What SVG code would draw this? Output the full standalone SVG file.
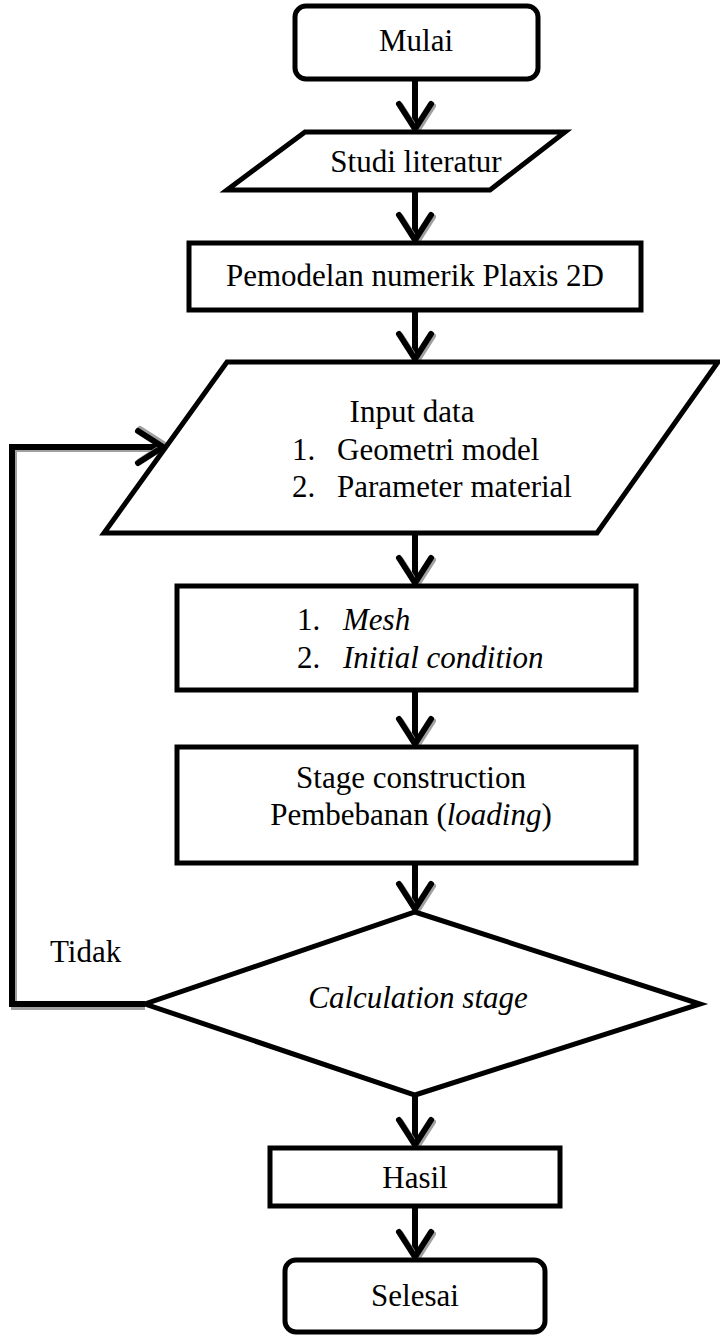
<svg xmlns="http://www.w3.org/2000/svg" xmlns:xlink="http://www.w3.org/1999/xlink" width="720" height="1335" viewBox="0 0 720 1335">
<style>
.box{fill:#fff;stroke:#000;stroke-width:5;stroke-linejoin:miter}
.t{font-family:"Liberation Serif","Times New Roman",serif;font-size:31px;fill:#000}
.c{text-anchor:middle}
.i{font-style:italic}
.sh{fill:none;stroke:#a0a0a0;stroke-width:6;stroke-linecap:round;stroke-linejoin:round}
.ln{fill:none;stroke:#000;stroke-width:6;stroke-linecap:round;stroke-linejoin:round}
.shaft{fill:none;stroke:#000;stroke-width:6}
</style>
<defs>
<g id="head">
<path d="M-16,-26 L0,-1 L16,-26" transform="translate(2,2)" class="sh"/>
<path d="M-16,-26 L0,-1 L16,-26" class="ln"/>
</g>
</defs>
<g id="connectors">
<line x1="415" y1="79" x2="415" y2="128" class="shaft"/>
<use xlink:href="#head" x="415" y="130"/>
<line x1="415" y1="190" x2="415" y2="239" class="shaft"/>
<use xlink:href="#head" x="415" y="241"/>
<line x1="415" y1="310" x2="415" y2="358" class="shaft"/>
<use xlink:href="#head" x="415" y="360"/>
<line x1="415" y1="533" x2="415" y2="582" class="shaft"/>
<use xlink:href="#head" x="415" y="584"/>
<line x1="415" y1="690" x2="415" y2="743" class="shaft"/>
<use xlink:href="#head" x="415" y="745"/>
<line x1="415" y1="863" x2="415" y2="908" class="shaft"/>
<use xlink:href="#head" x="415" y="910"/>
<line x1="415" y1="1095" x2="415" y2="1144" class="shaft"/>
<use xlink:href="#head" x="415" y="1146"/>
<line x1="415" y1="1206" x2="415" y2="1256" class="shaft"/>
<use xlink:href="#head" x="415" y="1258"/>
<path d="M145,1007 L14,1007 L14,449 L162,449" fill="none" stroke="#a0a0a0" stroke-width="6"/>
<path d="M145,1004 L12,1004 L12,447 L160,447" fill="none" stroke="#000" stroke-width="6"/>
<g transform="translate(164,447) rotate(-90)">
<use xlink:href="#head"/>
</g>
</g>
<g id="mulai">
<rect x="295" y="6" width="243" height="73" rx="11" class="box"/>
<text x="416" y="51" class="t c">Mulai</text>
</g>
<g id="studi">
<polygon points="305,132 565,132 490,190 227,190" class="box"/>
<text x="416" y="172" class="t c">Studi literatur</text>
</g>
<g id="pemodelan">
<rect x="189" y="243" width="452" height="67" class="box"/>
<text x="415" y="286" class="t c">Pemodelan numerik Plaxis 2D</text>
</g>
<g id="input">
<polygon points="227,362 718,362 597,533 104,533" class="box"/>
<text x="412" y="422" class="t c">Input data</text>
<text x="292" y="460" class="t">1.</text>
<text x="337" y="460" class="t">Geometri model</text>
<text x="292" y="497" class="t">2.</text>
<text x="337" y="497" class="t">Parameter material</text>
</g>
<g id="mesh">
<rect x="177" y="586" width="459" height="104" class="box"/>
<text x="297" y="630" class="t">1.</text>
<text x="343" y="630" class="t i">Mesh</text>
<text x="297" y="668" class="t">2.</text>
<text x="343" y="668" class="t i">Initial condition</text>
</g>
<g id="stage">
<rect x="177" y="747" width="459" height="116" class="box"/>
<text x="411" y="788" class="t c">Stage construction</text>
<text x="411" y="825" class="t c">Pembebanan (<tspan class="i">loading</tspan>)</text>
</g>
<g id="calc">
<polygon points="415,912 700,1004 415,1095 145,1004" class="box"/>
<text x="418" y="1008" class="t c i">Calculation stage</text>
</g>
<text x="50" y="962" class="t">Tidak</text>
<g id="hasil">
<rect x="270" y="1148" width="290" height="58" class="box"/>
<text x="415" y="1188" class="t c">Hasil</text>
</g>
<g id="selesai">
<rect x="285" y="1260" width="260" height="72" rx="11" class="box"/>
<text x="415" y="1306" class="t c">Selesai</text>
</g>
</svg>
